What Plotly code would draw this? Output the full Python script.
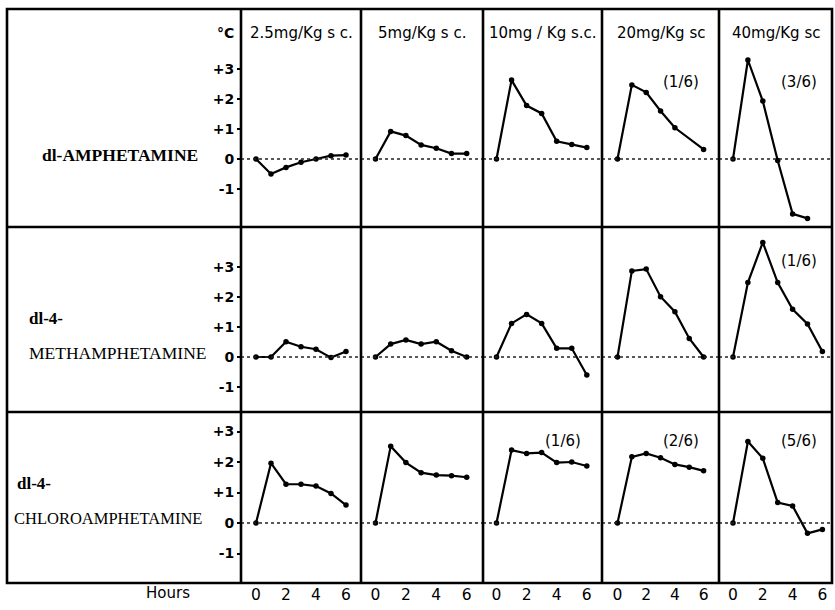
import plotly.graph_objects as go

W, H = 835, 610

# ---- data: change in body temperature (°C) vs hours after injection ----
doses = ["2.5mg/Kg s c.", "5mg/Kg s c.", "10mg / Kg s.c.", "20mg/Kg sc", "40mg/Kg sc"]
hour_ticks = [0, 2, 4, 6]
temp_ticks = [-1, 0, 1, 2, 3]
temp_tick_text = ["-1", "0", "+1", "+2", "+3"]

hours = [0, 1, 2, 3, 4, 5, 6]

# dl-amphetamine
amph_2_5 = [0, -0.5, -0.28, -0.11, 0.0, 0.11, 0.13]
amph_5 = [0, 0.92, 0.78, 0.47, 0.36, 0.18, 0.18]
amph_10 = [0, 2.63, 1.78, 1.52, 0.59, 0.48, 0.38]
amph_20_hours = [0, 1, 2, 3, 4, 6]
amph_20 = [0, 2.47, 2.22, 1.6, 1.04, 0.32]
amph_40_hours = [0, 1, 2, 3, 4, 5]
amph_40 = [0, 3.3, 1.93, -0.05, -1.83, -1.98]

# dl-4-methamphetamine
meth_2_5 = [0, 0, 0.51, 0.34, 0.26, -0.02, 0.18]
meth_5 = [0, 0.43, 0.57, 0.43, 0.51, 0.21, 0]
meth_10 = [0, 1.12, 1.42, 1.12, 0.29, 0.29, -0.6]
meth_20 = [0, 2.87, 2.93, 2.01, 1.51, 0.62, 0]
meth_40 = [0, 2.48, 3.82, 2.48, 1.59, 1.1, 0.18]

# dl-4-chloroamphetamine
chloro_2_5 = [0, 1.96, 1.27, 1.27, 1.21, 0.97, 0.59]
chloro_5 = [0, 2.52, 1.98, 1.65, 1.57, 1.55, 1.5]
chloro_10 = [0, 2.39, 2.28, 2.31, 1.98, 2.0, 1.87]
chloro_20 = [0, 2.17, 2.28, 2.14, 1.92, 1.83, 1.71]
chloro_40 = [0, 2.67, 2.12, 0.67, 0.56, -0.34, -0.21]

panels = [
    [(hours, amph_2_5), (hours, amph_5), (hours, amph_10),
     (amph_20_hours, amph_20), (amph_40_hours, amph_40)],
    [(hours, meth_2_5), (hours, meth_5), (hours, meth_10),
     (hours, meth_20), (hours, meth_40)],
    [(hours, chloro_2_5), (hours, chloro_5), (hours, chloro_10),
     (hours, chloro_20), (hours, chloro_40)],
]

# lethality (dead / treated) per row, column
lethality = {(0, 3): "(1/6)", (0, 4): "(3/6)", (1, 4): "(1/6)",
             (2, 2): "(1/6)", (2, 3): "(2/6)", (2, 4): "(5/6)"}

# ---- page geometry (pixels) ----
col_edges = [241, 361, 483, 602, 719, 832]
col_h0 = [256, 375.5, 496.5, 617.5, 733]
col_pph = [15.0, 15.2, 15.05, 14.35, 14.9]
row_edges = [9, 227, 412, 583]
row_zero = [159, 357, 523]
row_ppu = [30.0, 30.0, 30.5]
label_left = 7


def px(x):
    return x / W


def py(y):
    return 1 - y / H


fig = go.Figure()
layout = dict(
    width=W, height=H, margin=dict(l=0, r=0, t=0, b=0),
    paper_bgcolor="white", plot_bgcolor="white", showlegend=False,
)
shapes = []
annotations = []

for r in range(3):
    for c in range(5):
        n = r * 5 + c + 1
        sfx = "" if n == 1 else str(n)
        xs, ys = panels[r][c]
        fig.add_trace(go.Scatter(
            x=xs, y=ys, mode="lines+markers",
            line=dict(color="black", width=2.2),
            marker=dict(color="black", size=5.5),
            xaxis=f"x{sfx}", yaxis=f"y{sfx}", hoverinfo="skip",
        ))
        left, right = col_edges[c], col_edges[c + 1]
        top, bottom = row_edges[r], row_edges[r + 1]
        xr = [(left - col_h0[c]) / col_pph[c], (right - col_h0[c]) / col_pph[c]]
        yr = [-(bottom - row_zero[r]) / row_ppu[r], (row_zero[r] - top) / row_ppu[r]]
        xa = dict(domain=[px(left), px(right)], range=xr, anchor=f"y{sfx}",
                  showgrid=False, zeroline=False, showline=False,
                  showticklabels=False, ticks="")
        ya = dict(domain=[py(bottom), py(top)], range=yr, anchor=f"x{sfx}",
                  showgrid=False, zeroline=False, showline=False,
                  showticklabels=False, ticks="")
        if r == 2:
            xa.update(showticklabels=True, tickvals=hour_ticks,
                      tickfont=dict(family="DejaVu Sans", size=15.5, color="black"))
        if c == 0:
            ya.update(showticklabels=True, tickvals=temp_ticks, ticktext=temp_tick_text,
                      ticks="outside", ticklen=3, tickwidth=2, tickcolor="black",
                      tickfont=dict(family="DejaVu Sans", size=14, color="black",
                                    weight="bold"))
        layout[f"xaxis{sfx}"] = xa
        layout[f"yaxis{sfx}"] = ya
        # dotted baseline at 0 °C
        shapes.append(dict(type="line", xref=f"x{sfx} domain", yref=f"y{sfx}",
                           x0=0, x1=1, y0=0, y1=0,
                           line=dict(color="#222", width=1.3, dash="dot")))
        if (r, c) in lethality:
            annotations.append(dict(
                text=lethality[(r, c)], xref="paper", yref="paper",
                x=px(col_h0[c] + 4.4 * col_pph[c]),
                y=py(82 if r == 0 else (261 if r == 1 else 441)),
                showarrow=False, xanchor="center", yanchor="middle",
                font=dict(family="DejaVu Sans", size=15, color="black")))

# dose headers
for c, d in enumerate(doses):
    annotations.append(dict(
        text=d, xref="paper", yref="paper",
        x=px((col_edges[c] + col_edges[c + 1]) / 2), y=py(33),
        showarrow=False, xanchor="center", yanchor="middle",
        font=dict(family="DejaVu Sans", size=15, color="black")))

annotations.append(dict(text="°C", xref="paper", yref="paper", x=px(236), y=py(33),
                        showarrow=False, xanchor="right", yanchor="middle",
                        font=dict(family="DejaVu Sans", size=14, color="black",
                                  weight="bold")))
annotations.append(dict(text="Hours", xref="paper", yref="paper", x=px(168), y=py(593),
                        showarrow=False, xanchor="center", yanchor="middle",
                        font=dict(family="DejaVu Sans", size=15, color="black")))

# drug names
serif = "Liberation Serif"
drug_lines = [
    ("dl-AMPHETAMINE", 40, 155, "bold", 17.5),
    ("dl-4-", 27, 318, "bold", 17),
    ("METHAMPHETAMINE", 27, 353, "normal", 17.5),
    ("dl-4-", 15, 483, "bold", 17),
    ("CHLOROAMPHETAMINE", 12, 518, "normal", 16.5),
]
for text, x, y, wgt, size in drug_lines:
    annotations.append(dict(text=text, xref="paper", yref="paper", x=px(x), y=py(y),
                            showarrow=False, xanchor="left", yanchor="middle",
                            font=dict(family=serif, size=size, color="black",
                                      weight=wgt)))

# frame and grid rules
rule = dict(color="black", width=2.6)
shapes.append(dict(type="rect", xref="paper", yref="paper",
                   x0=px(label_left), x1=px(col_edges[-1]),
                   y0=py(row_edges[-1]), y1=py(row_edges[0]), line=rule))
for xe in col_edges[:-1]:
    shapes.append(dict(type="line", xref="paper", yref="paper",
                       x0=px(xe), x1=px(xe), y0=py(row_edges[-1]), y1=py(row_edges[0]),
                       line=rule))
for ye in row_edges[1:-1]:
    shapes.append(dict(type="line", xref="paper", yref="paper",
                       x0=px(label_left), x1=px(col_edges[-1]), y0=py(ye), y1=py(ye),
                       line=rule))

layout["shapes"] = shapes
layout["annotations"] = annotations
fig.update_layout(**layout)
fig.write_html("out.html")
